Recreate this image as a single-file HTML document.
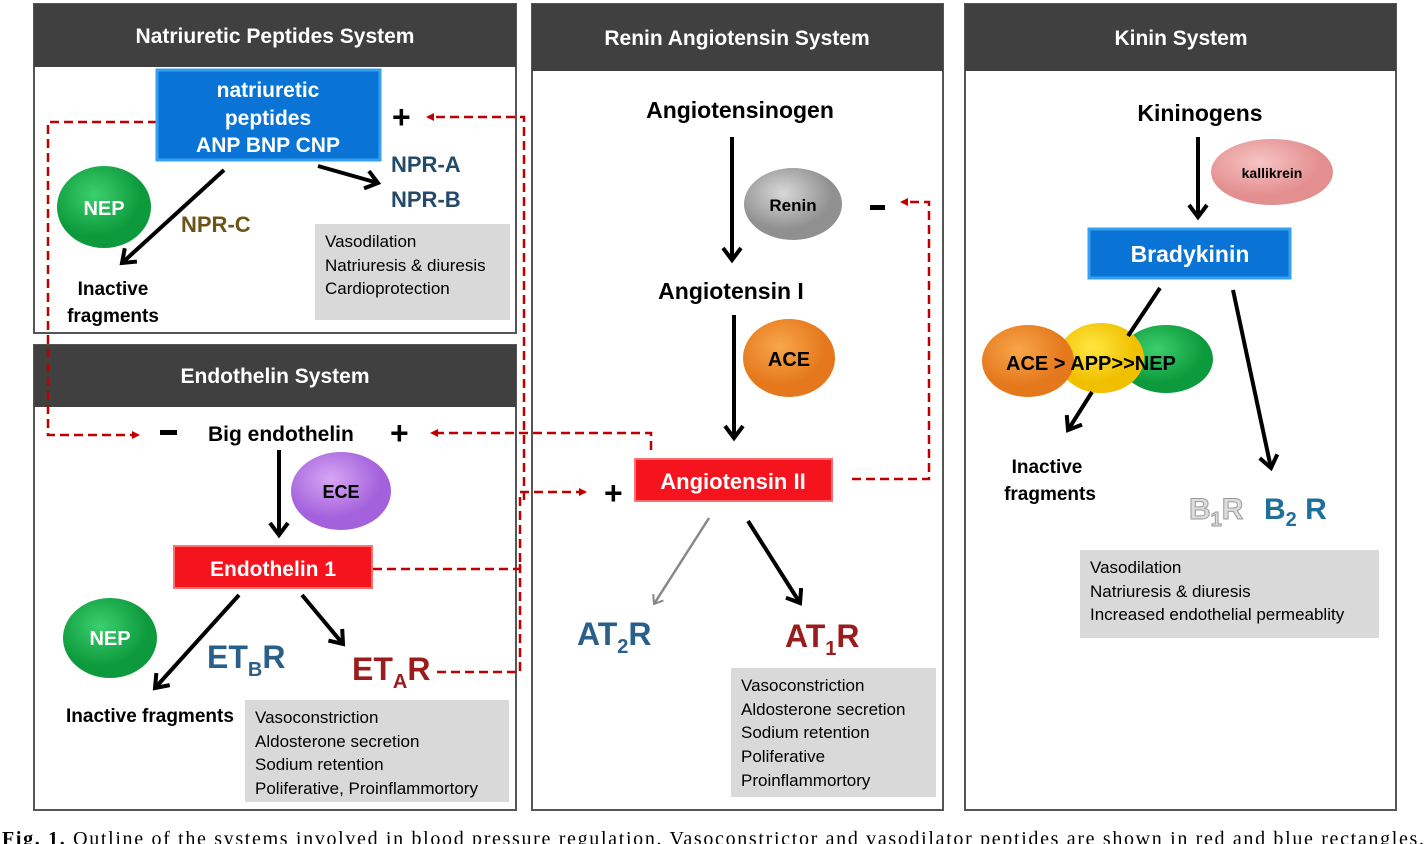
<!DOCTYPE html>
<html><head><style>
body{margin:0;background:#fff;width:1428px;height:844px;overflow:hidden}
svg{display:block}
text{font-family:"Liberation Sans",sans-serif}
.b{font-weight:bold}
</style></head><body>
<svg width="1428" height="844" viewBox="0 0 1428 844">
<defs>
<marker id="ar" markerWidth="8" markerHeight="8" refX="6" refY="4" orient="auto" markerUnits="userSpaceOnUse"><path d="M0,0 L8,4 L0,8 z" fill="#c00000"/></marker>
<marker id="bk" markerWidth="22" markerHeight="22" refX="14" refY="11" orient="auto" markerUnits="userSpaceOnUse"><path d="M2,2 L14,11 L2,20" fill="none" stroke="#000" stroke-width="4"/></marker>
<marker id="gy" markerWidth="16" markerHeight="16" refX="10" refY="8" orient="auto" markerUnits="userSpaceOnUse"><path d="M2,2 L10,8 L2,14" fill="none" stroke="#888" stroke-width="2"/></marker>
<radialGradient id="gG" cx="40%" cy="35%"><stop offset="0" stop-color="#3ccf6e"/><stop offset="1" stop-color="#0d9a3c"/></radialGradient>
<radialGradient id="gO" cx="40%" cy="35%"><stop offset="0" stop-color="#f8a64a"/><stop offset="1" stop-color="#e5781c"/></radialGradient>
<radialGradient id="gY" cx="40%" cy="35%"><stop offset="0" stop-color="#ffe640"/><stop offset="1" stop-color="#f0c000"/></radialGradient>
<radialGradient id="gR" cx="40%" cy="35%"><stop offset="0" stop-color="#d8d8d8"/><stop offset="1" stop-color="#909090"/></radialGradient>
<radialGradient id="gP" cx="40%" cy="35%"><stop offset="0" stop-color="#d6a6f4"/><stop offset="1" stop-color="#a461dc"/></radialGradient>
<radialGradient id="gK" cx="40%" cy="35%"><stop offset="0" stop-color="#f6c4c4"/><stop offset="1" stop-color="#e48f8f"/></radialGradient>
</defs>
<g stroke="#555" stroke-width="2" fill="#fff">
<rect x="34" y="4" width="482" height="329"/>
<rect x="34" y="345" width="482" height="465"/>
<rect x="532" y="4" width="411" height="806"/>
<rect x="965" y="4" width="431" height="806"/>
</g>
<g fill="#404040">
<rect x="34" y="4" width="482" height="63"/>
<rect x="34" y="345" width="482" height="62"/>
<rect x="532" y="4" width="411" height="67"/>
<rect x="965" y="4" width="431" height="67"/>
</g>
<g fill="#fff" class="b" font-size="21" text-anchor="middle">
<text x="275" y="43">Natriuretic Peptides  System</text>
<text x="275" y="383">Endothelin System</text>
<text x="737" y="45">Renin Angiotensin System</text>
<text x="1181" y="45">Kinin System</text>
</g>
<g fill="none" stroke="#c00000" stroke-width="2.5" stroke-dasharray="9,5">
<polyline points="157,122 48,122 48,435 138,435" marker-end="url(#ar)"/>
<polyline points="524,500 524,117 428,117" marker-end="url(#ar)"/>
<polyline points="651,450 651,433 432,433" marker-end="url(#ar)"/>
<polyline points="373,569 520,569 520,492 585,492" marker-end="url(#ar)"/>
<polyline points="437,672 520,672 520,560"/>
<polyline points="852,479 929,479 929,202 902,202" marker-end="url(#ar)"/>
</g>
<rect x="157" y="70" width="223" height="90" fill="#0a74d6" stroke="#36a0f0" stroke-width="3"/>
<g fill="#fff" class="b" font-size="21" text-anchor="middle">
<text x="268" y="97">natriuretic</text><text x="268" y="125">peptides</text><text x="268" y="152">ANP BNP CNP</text>
</g>
<text x="392" y="128" class="b" font-size="32">+</text>
<line x1="224" y1="170" x2="122" y2="263" stroke="#000" stroke-width="4" marker-end="url(#bk)"/>
<line x1="318" y1="166" x2="378" y2="183" stroke="#000" stroke-width="4" marker-end="url(#bk)"/>
<ellipse cx="104" cy="207" rx="47" ry="41" fill="url(#gG)"/>
<text x="104" y="215" fill="#fff" class="b" font-size="20" text-anchor="middle">NEP</text>
<text x="181" y="232" fill="#6b5416" class="b" font-size="22">NPR-C</text>
<g fill="#234a6a" class="b" font-size="22"><text x="391" y="172">NPR-A</text><text x="391" y="207">NPR-B</text></g>
<text x="113" y="295" class="b" font-size="19" text-anchor="middle">Inactive</text>
<text x="113" y="322" class="b" font-size="19" text-anchor="middle">fragments</text>
<rect x="315" y="224" width="195" height="96" fill="#d9d9d9"/>
<g font-size="17"><text x="325" y="247">Vasodilation</text><text x="325" y="271">Natriuresis &amp; diuresis</text><text x="325" y="294">Cardioprotection</text></g>
<rect x="160" y="430" width="17" height="5" fill="#000"/>
<text x="208" y="441" class="b" font-size="21">Big endothelin</text>
<text x="390" y="444" class="b" font-size="32">+</text>
<line x1="279" y1="450" x2="279" y2="535" stroke="#000" stroke-width="4" marker-end="url(#bk)"/>
<ellipse cx="341" cy="491" rx="50" ry="39" fill="url(#gP)"/>
<text x="341" y="498" class="b" font-size="18" text-anchor="middle">ECE</text>
<rect x="174" y="546" width="198" height="42" fill="#f5141e" stroke="#ff7070" stroke-width="2"/>
<text x="273" y="576" fill="#fff" class="b" font-size="21" text-anchor="middle">Endothelin 1</text>
<line x1="239" y1="595" x2="155" y2="688" stroke="#000" stroke-width="4" marker-end="url(#bk)"/>
<line x1="302" y1="595" x2="343" y2="644" stroke="#000" stroke-width="4" marker-end="url(#bk)"/>
<ellipse cx="110" cy="638" rx="47" ry="40" fill="url(#gG)"/>
<text x="110" y="645" fill="#fff" class="b" font-size="20" text-anchor="middle">NEP</text>
<text x="207" y="668" fill="#2a5f8a" class="b" font-size="32">ET<tspan font-size="20" dy="8">B</tspan><tspan dy="-8">R</tspan></text>
<text x="352" y="680" fill="#9b1c1c" class="b" font-size="32">ET<tspan font-size="20" dy="8">A</tspan><tspan dy="-8">R</tspan></text>
<text x="66" y="722" class="b" font-size="19">Inactive fragments</text>
<rect x="245" y="700" width="264" height="102" fill="#d9d9d9"/>
<g font-size="17"><text x="255" y="723">Vasoconstriction</text><text x="255" y="747">Aldosterone secretion</text><text x="255" y="770">Sodium retention</text><text x="255" y="794">Poliferative, Proinflammortory</text></g>
<text x="740" y="118" class="b" font-size="23" text-anchor="middle">Angiotensinogen</text>
<line x1="732" y1="137" x2="732" y2="260" stroke="#000" stroke-width="4" marker-end="url(#bk)"/>
<ellipse cx="793" cy="204" rx="49" ry="36" fill="url(#gR)"/>
<text x="793" y="211" class="b" font-size="17" text-anchor="middle">Renin</text>
<rect x="870" y="205" width="15" height="5" fill="#000"/>
<text x="731" y="299" class="b" font-size="23" text-anchor="middle">Angiotensin I</text>
<line x1="734" y1="315" x2="734" y2="438" stroke="#000" stroke-width="4" marker-end="url(#bk)"/>
<ellipse cx="789" cy="358" rx="46" ry="39" fill="url(#gO)"/>
<text x="789" y="366" class="b" font-size="20" text-anchor="middle">ACE</text>
<text x="604" y="504" class="b" font-size="32">+</text>
<rect x="635" y="459" width="197" height="42" fill="#f5141e" stroke="#ff7070" stroke-width="2"/>
<text x="733" y="489" fill="#fff" class="b" font-size="22" text-anchor="middle">Angiotensin II</text>
<line x1="709" y1="518" x2="654" y2="604" stroke="#888" stroke-width="2.5" marker-end="url(#gy)"/>
<line x1="748" y1="521" x2="800" y2="603" stroke="#000" stroke-width="4" marker-end="url(#bk)"/>
<text x="577" y="645" fill="#2a5f8a" class="b" font-size="32">AT<tspan font-size="20" dy="8">2</tspan><tspan dy="-8">R</tspan></text>
<text x="785" y="647" fill="#9b1c1c" class="b" font-size="32">AT<tspan font-size="20" dy="8">1</tspan><tspan dy="-8">R</tspan></text>
<rect x="731" y="668" width="205" height="129" fill="#d9d9d9"/>
<g font-size="17"><text x="741" y="691">Vasoconstriction</text><text x="741" y="715">Aldosterone secretion</text><text x="741" y="738">Sodium retention</text><text x="741" y="762">Poliferative</text><text x="741" y="786">Proinflammortory</text></g>
<text x="1200" y="121" class="b" font-size="23" text-anchor="middle">Kininogens</text>
<line x1="1198" y1="137" x2="1198" y2="217" stroke="#000" stroke-width="4" marker-end="url(#bk)"/>
<ellipse cx="1272" cy="172" rx="61" ry="33" fill="url(#gK)"/>
<text x="1272" y="178" class="b" font-size="14" text-anchor="middle">kallikrein</text>
<rect x="1089" y="229" width="201" height="49" fill="#0a74d6" stroke="#36a0f0" stroke-width="3"/>
<text x="1190" y="262" fill="#fff" class="b" font-size="23" text-anchor="middle">Bradykinin</text>
<line x1="1233" y1="290" x2="1271" y2="468" stroke="#000" stroke-width="4" marker-end="url(#bk)"/>
<ellipse cx="1166" cy="359" rx="47" ry="34" fill="url(#gG)"/>
<ellipse cx="1101" cy="358" rx="43" ry="35" fill="url(#gY)"/>
<ellipse cx="1028" cy="361" rx="46" ry="36" fill="url(#gO)"/>
<line x1="1160" y1="288" x2="1128" y2="336" stroke="#000" stroke-width="4"/>
<line x1="1092" y1="392" x2="1068" y2="430" stroke="#000" stroke-width="4" marker-end="url(#bk)"/>
<text x="1006" y="370" class="b" font-size="20">ACE &gt; APP&gt;&gt;NEP</text>
<text x="1047" y="473" class="b" font-size="19" text-anchor="middle">Inactive</text>
<text x="1050" y="500" class="b" font-size="19" text-anchor="middle">fragments</text>
<text x="1189" y="519" fill="#ddd" stroke="#999" stroke-width="1" class="b" font-size="30">B<tspan font-size="20" dy="7">1</tspan><tspan dy="-7">R</tspan></text>
<text x="1264" y="519" fill="#1f6f9a" class="b" font-size="30">B<tspan font-size="20" dy="7">2</tspan><tspan dy="-7"> R</tspan></text>
<rect x="1080" y="550" width="299" height="88" fill="#d9d9d9"/>
<g font-size="17"><text x="1090" y="573">Vasodilation</text><text x="1090" y="597">Natriuresis &amp; diuresis</text><text x="1090" y="620">Increased endothelial permeablity</text></g>
<text x="2" y="845" style="font-family:'Liberation Serif',serif" font-size="20" textLength="1422" lengthAdjust="spacing"><tspan font-weight="bold">Fig. 1.</tspan> Outline of the systems involved in blood pressure regulation. Vasoconstrictor and vasodilator peptides are shown in red and blue rectangles.</text>
</svg>
</body></html>
